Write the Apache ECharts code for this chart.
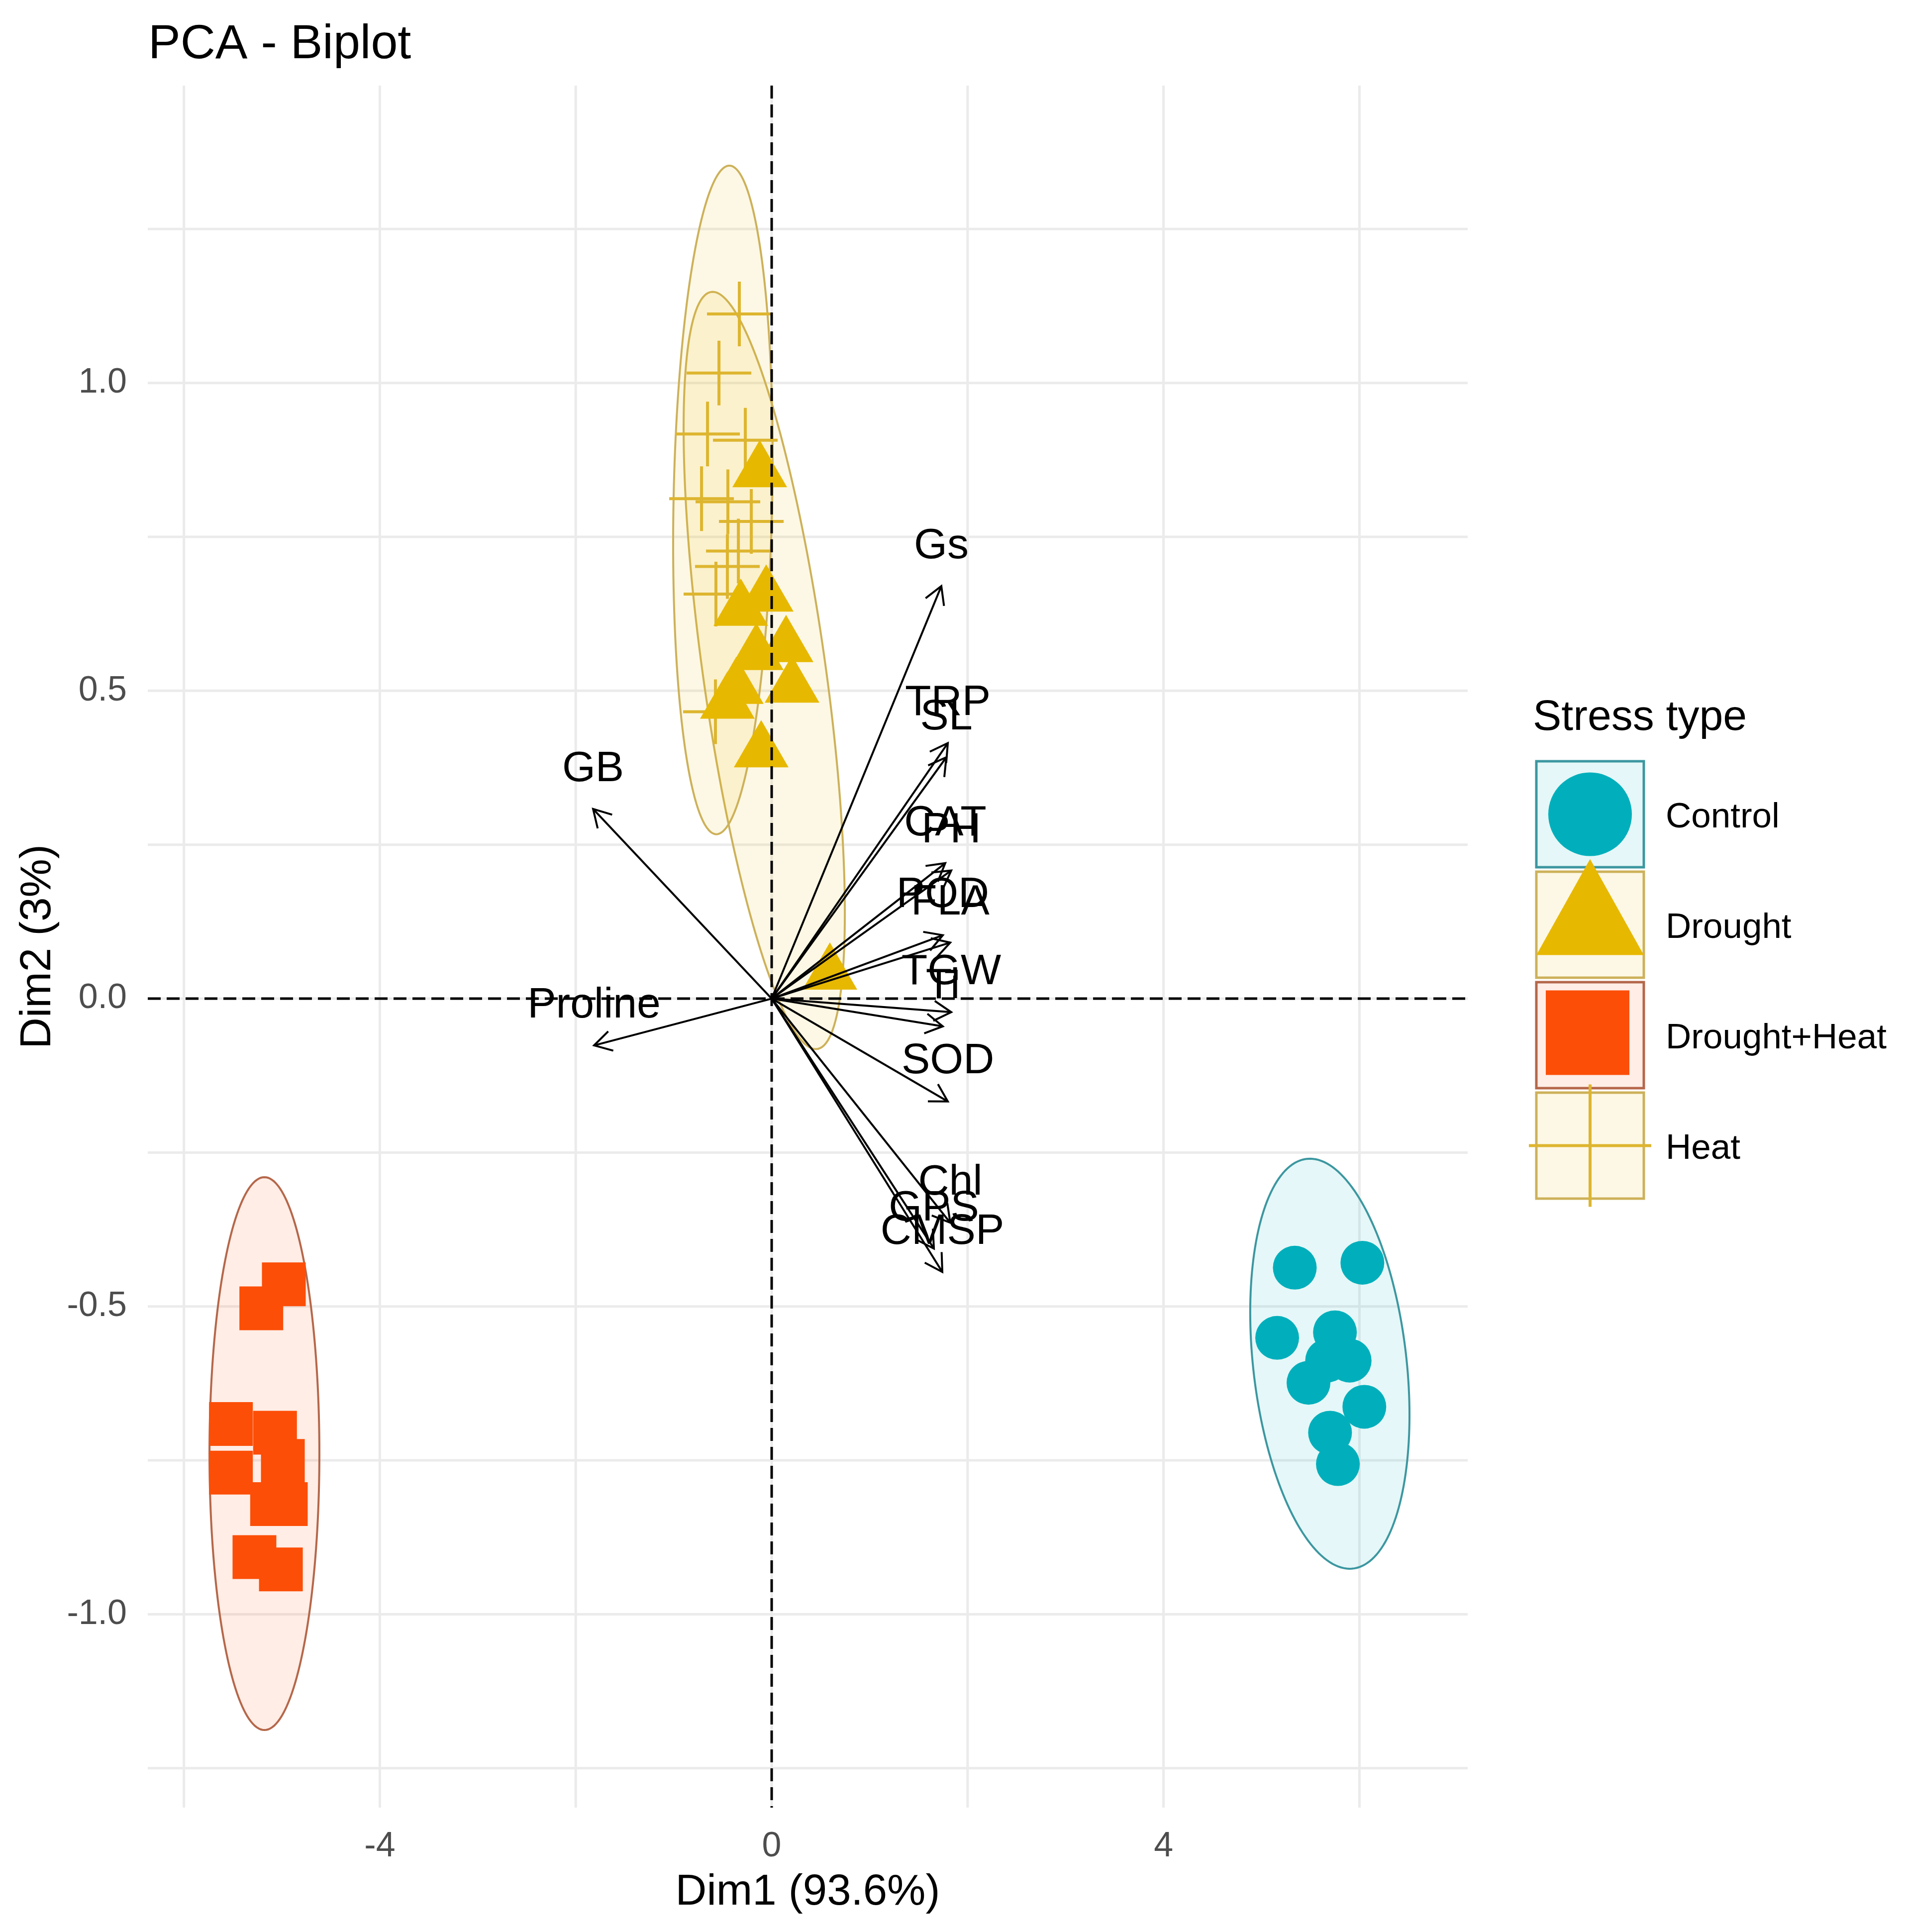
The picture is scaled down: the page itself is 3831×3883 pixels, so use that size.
<!DOCTYPE html>
<html>
<head>
<meta charset="utf-8">
<title>PCA - Biplot</title>
<script src="https://cdn.jsdelivr.net/npm/echarts@6/dist/echarts.min.js"></script>
<style>
  html, body { margin: 0; padding: 0; background: #fff; }
  #chart { width: 3831px; height: 3883px; }
</style>
</head>
<body>
<div id="chart"></div>
<script>
// individuals (Dim1, Dim2)
const groups = ['Control', 'Drought', 'Drought+Heat', 'Heat'];

const controlDim1 = [5.34, 6.03, 5.16, 5.75, 5.90, 5.67, 5.48, 6.05, 5.70, 5.78];
const controlDim2 = [-0.437, -0.429, -0.551, -0.542, -0.588, -0.588, -0.624, -0.663, -0.705, -0.756];

const droughtDim1 = [-0.122, -0.056, -0.315, 0.147, -0.157, 0.208, -0.361, -0.452, -0.107, 0.594];
const droughtDim2 = [0.869, 0.667, 0.644, 0.585, 0.572, 0.519, 0.517, 0.493, 0.414, 0.053];

const dhDim1 = [-4.98, -5.21, -5.52, -5.52, -5.07, -4.99, -5.10, -4.96, -5.28, -5.01];
const dhDim2 = [-0.464, -0.503, -0.691, -0.770, -0.705, -0.751, -0.821, -0.821, -0.907, -0.927];

const heatDim1 = [-0.330, -0.538, -0.655, -0.269, -0.716, -0.447, -0.208, -0.340, -0.452, -0.569, -0.574];
const heatDim2 = [1.112, 1.016, 0.917, 0.907, 0.812, 0.807, 0.775, 0.727, 0.702, 0.657, 0.466];

// variables (arrow tips)
const varNames = ['Gs', 'TRP', 'SL', 'CAT', 'PH', 'POD', 'FLA', 'TGW', 'Ti', 'SOD', 'Chl', 'GPS', 'CMSP', 'Proline', 'GB'];
const varDim1 = [1.732, 1.798, 1.783, 1.772, 1.833, 1.747, 1.823, 1.833, 1.747, 1.798, 1.823, 1.656, 1.742, -1.813, -1.823];
const varDim2 = [0.670, 0.415, 0.392, 0.220, 0.208, 0.103, 0.091, -0.022, -0.045, -0.167, -0.364, -0.406, -0.444, -0.076, 0.308];

// concentration ellipses: centre, x half-extent, y half-extent, correlation
const ellipseCx = [5.698, -0.076, -5.178, -0.498];
const ellipseCy = [-0.593, 0.533, -0.739, 0.810];
const ellipseSx = [0.813, 0.823, 0.561, 0.508];
const ellipseSy = [0.333, 0.615, 0.449, 0.543];
const ellipseR = [-0.25, -0.64, 0.0, 0.13];

// axes
const gridX = [-6, -4, -2, 0, 2, 4, 6];
const gridY = [-1.25, -1, -0.75, -0.5, -0.25, 0, 0.25, 0.5, 0.75, 1, 1.25];
const tickX = [-4, 0, 4];
const tickY = [-1, -0.5, 0, 0.5, 1];

// styles
const FONT = '"Liberation Sans", Arial, Helvetica, sans-serif';
const pointColor = ['#00AFBB', '#E7B800', '#FC4E07', '#DDB52F'];
const ellipseFill = ['rgba(0,175,187,0.1)', 'rgba(231,184,0,0.1)', 'rgba(252,78,7,0.1)', 'rgba(231,184,0,0.1)'];
const ellipseLine = ['#3C97A0', '#CDB15A', '#B5674A', '#CDB15A'];
const crossPath = 'path://M0,62L130,62L130,68L0,68Z M62,0L68,0L68,130L62,130Z';

function zip(a, b) {
  return a.map((v, i) => [v, b[i]]);
}

function renderGrid(params, api) {
  const cs = params.coordSys;
  const v = api.value(0);
  if (api.value(1) === 0) {
    const x = api.coord([v, 0])[0];
    return { type: 'line', shape: { x1: x, y1: cs.y, x2: x, y2: cs.y + cs.height },
      style: { stroke: '#EBEBEB', lineWidth: 5 } };
  }
  const y = api.coord([0, v])[1];
  return { type: 'line', shape: { x1: cs.x, y1: y, x2: cs.x + cs.width, y2: y },
    style: { stroke: '#EBEBEB', lineWidth: 5 } };
}

function renderRefLine(params, api) {
  const cs = params.coordSys;
  const style = { stroke: '#000', lineWidth: 5, lineDash: [26, 12] };
  if (api.value(1) === 0) {
    const x = api.coord([0, 0])[0];
    return { type: 'line', shape: { x1: x, y1: cs.y, x2: x, y2: cs.y + cs.height }, style: style };
  }
  const y = api.coord([0, 0])[1];
  return { type: 'line', shape: { x1: cs.x, y1: y, x2: cs.x + cs.width, y2: y }, style: style };
}

function renderEllipse(params, api) {
  const i = params.dataIndex;
  const cx = api.value(0), cy = api.value(1);
  const r = ellipseR[i];
  const pts = [];
  for (let k = 0; k < 180; k++) {
    const t = 2 * Math.PI * k / 180;
    const x = cx + ellipseSx[i] * Math.cos(t);
    const y = cy + ellipseSy[i] * (r * Math.cos(t) + Math.sqrt(1 - r * r) * Math.sin(t));
    pts.push(api.coord([x, y]));
  }
  return { type: 'polygon', shape: { points: pts },
    style: { fill: ellipseFill[i], stroke: ellipseLine[i], lineWidth: 4 } };
}

function renderArrow(params, api) {
  const o = api.coord([0, 0]);
  const p = api.coord([api.value(0), api.value(1)]);
  const ang = Math.atan2(p[1] - o[1], p[0] - o[0]);
  const L = 40, a = Math.PI / 6;
  const h1 = [p[0] - L * Math.cos(ang - a), p[1] - L * Math.sin(ang - a)];
  const h2 = [p[0] - L * Math.cos(ang + a), p[1] - L * Math.sin(ang + a)];
  return {
    type: 'group',
    children: [
      { type: 'line', shape: { x1: o[0], y1: o[1], x2: p[0], y2: p[1] },
        style: { stroke: '#000', lineWidth: 4 } },
      { type: 'polyline', shape: { points: [h1, p, h2] },
        style: { stroke: '#000', lineWidth: 4, fill: null } },
      { type: 'text', x: p[0], y: p[1] - 80,
        style: { text: varNames[params.dataIndex], fill: '#000', fontSize: 86, fontFamily: FONT,
          align: 'center', verticalAlign: 'middle' } }
    ]
  };
}

// legend keys (drawn as graphics, ggplot style boxes)
const legendX = 3088, legendTop = 1530, keyStep = 222, keyW = 216, keyH = 213;
const legendGraphics = [
  { type: 'text', x: 3081, y: 1443,
    style: { text: 'Stress type', fill: '#000', fontSize: 86, fontFamily: FONT, verticalAlign: 'middle' } }
];
groups.forEach((g, i) => {
  const top = legendTop + i * keyStep;
  const cx = legendX + keyW / 2, cy = top + keyH / 2;
  legendGraphics.push({ type: 'rect', shape: { x: legendX, y: top, width: keyW, height: keyH },
    style: { fill: ellipseFill[i], stroke: ellipseLine[i], lineWidth: 5 } });
  let sym;
  if (i === 0) {
    sym = { type: 'circle', shape: { cx: cx, cy: cy, r: 84 }, style: { fill: pointColor[0] } };
  } else if (i === 1) {
    sym = { type: 'polygon', shape: { points: [[cx, cy - 132], [legendX + keyW, cy + 61], [legendX, cy + 61]] },
      style: { fill: pointColor[1] } };
  } else if (i === 2) {
    sym = { type: 'rect', shape: { x: cx - 89, y: cy - 90, width: 168, height: 170 }, style: { fill: pointColor[2] } };
  } else {
    sym = { type: 'group', children: [
      { type: 'rect', shape: { x: cx - 123, y: cy - 3, width: 246, height: 6 }, style: { fill: pointColor[3] } },
      { type: 'rect', shape: { x: cx - 3, y: cy - 123, width: 6, height: 246 }, style: { fill: pointColor[3] } }
    ] };
  }
  legendGraphics.push(sym);
  legendGraphics.push({ type: 'text', x: 3348, y: cy + 7,
    style: { text: g, fill: '#000', fontSize: 71, fontFamily: FONT, verticalAlign: 'middle' } });
});

const chart = echarts.init(document.getElementById('chart'), null, { renderer: 'canvas' });

chart.setOption({
  backgroundColor: '#fff',
  animation: false,
  title: {
    text: 'PCA - Biplot',
    left: 293,
    top: 37,
    textStyle: { fontSize: 97, lineHeight: 97, fontWeight: 'normal', color: '#000', fontFamily: FONT }
  },
  grid: { left: 297, right: 881, top: 172, bottom: 250 },
  xAxis: {
    type: 'value',
    min: -6.369,
    max: 7.105,
    name: 'Dim1 (93.6%)',
    nameLocation: 'middle',
    nameGap: 128,
    nameTextStyle: { fontSize: 87, lineHeight: 87, color: '#000', fontFamily: FONT },
    axisLine: { show: false },
    axisTick: { show: true, customValues: tickX, length: 22, lineStyle: { color: '#333', width: 3 } },
    axisLabel: { customValues: tickX, fontSize: 70, color: '#4D4D4D', margin: 44, fontFamily: FONT },
    splitLine: { show: false }
  },
  yAxis: {
    type: 'value',
    min: -1.314,
    max: 1.483,
    name: 'Dim2 (3%)',
    nameLocation: 'middle',
    nameGap: 176,
    nameRotate: 90,
    nameTextStyle: { fontSize: 87, lineHeight: 87, color: '#000', fontFamily: FONT },
    axisLine: { show: false },
    axisTick: { show: true, customValues: tickY, length: 22, lineStyle: { color: '#333', width: 3 } },
    axisLabel: { customValues: tickY, fontSize: 70, color: '#4D4D4D', margin: 42, fontFamily: FONT,
      formatter: v => v.toFixed(1) },
    splitLine: { show: false }
  },
  graphic: legendGraphics,
  series: [
    {
      type: 'custom', name: 'grid', z: 1, silent: true,
      renderItem: renderGrid,
      data: gridX.map(v => [v, 0]).concat(gridY.map(v => [v, 1]))
    },
    {
      type: 'custom', name: 'ellipses', z: 2, silent: true,
      renderItem: renderEllipse,
      data: zip(ellipseCx, ellipseCy)
    },
    {
      type: 'scatter', name: 'Control', z: 3,
      symbol: 'circle', symbolSize: 88,
      itemStyle: { color: pointColor[0], opacity: 1 },
      data: zip(controlDim1, controlDim2)
    },
    {
      type: 'scatter', name: 'Drought+Heat', z: 3,
      symbol: 'rect', symbolSize: 88,
      itemStyle: { color: pointColor[2], opacity: 1 },
      data: zip(dhDim1, dhDim2)
    },
    {
      type: 'scatter', name: 'Heat', z: 3,
      symbol: crossPath, symbolSize: 130,
      itemStyle: { color: pointColor[3], opacity: 1 },
      data: zip(heatDim1, heatDim2)
    },
    {
      type: 'scatter', name: 'Drought', z: 3,
      symbol: 'triangle', symbolSize: [110, 95],
      itemStyle: { color: pointColor[1], opacity: 1 },
      data: zip(droughtDim1, droughtDim2)
    },
    {
      type: 'custom', name: 'reference', z: 4, silent: true,
      renderItem: renderRefLine,
      data: [[0, 0], [0, 1]]
    },
    {
      type: 'custom', name: 'variables', z: 5, silent: true,
      renderItem: renderArrow,
      data: zip(varDim1, varDim2)
    }
  ]
});
</script>
</body>
</html>
